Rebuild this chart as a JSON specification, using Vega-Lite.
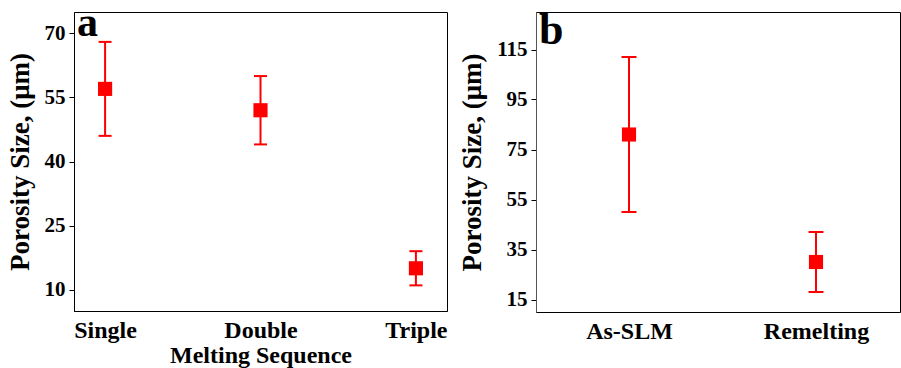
{
  "$schema": "https://vega.github.io/schema/vega-lite/v6.json",
  "padding": {"left": 5, "top": 1, "right": 0, "bottom": 0},
  "background": "white",
  "spacing": 10,
  "config": {
    "font": "Liberation Serif",
    "view": {"stroke": "black", "strokeWidth": 1},
    "axis": {
      "grid": false,
      "domainColor": "black",
      "domainWidth": 1,
      "tickColor": "black",
      "labelColor": "black",
      "titleColor": "black",
      "labelFont": "Liberation Serif",
      "titleFont": "Liberation Serif",
      "labelFontWeight": "bold",
      "titleFontWeight": "bold"
    },
    "title": {"font": "Liberation Serif", "fontWeight": "bold", "color": "black"}
  },
  "datasets": {
    "a": [
      {"seq": "Single", "mean": 57, "lo": 46, "hi": 68},
      {"seq": "Double", "mean": 52, "lo": 44, "hi": 60},
      {"seq": "Triple", "mean": 15, "lo": 11, "hi": 19}
    ],
    "b": [
      {"cond": "As-SLM", "mean": 81, "lo": 50, "hi": 112},
      {"cond": "Remelting", "mean": 30, "lo": 18, "hi": 42}
    ]
  },
  "hconcat": [
    {
      "width": 373,
      "height": 299,
      "data": {"name": "a"},
      "title": {"text": "a", "anchor": "start", "frame": "group", "orient": "top", "offset": -33, "fontSize": 42, "dx": 3},
      "encoding": {
        "x": {
          "field": "seq", "type": "nominal", "sort": null,
          "scale": {"type": "point", "padding": 0.2},
          "axis": {"title": "Melting Sequence", "labelAngle": 0, "ticks": false, "labelFontSize": 24, "titleFontSize": 24, "labelPadding": 7, "titlePadding": 1}
        }
      },
      "layer": [
        {
          "mark": {"type": "rule", "color": "#ff0000", "strokeWidth": 2},
          "encoding": {
            "y": {"field": "lo", "type": "quantitative", "scale": {"domain": [5, 75]},
              "axis": {"title": "Porosity Size, (μm)", "values": [10, 25, 40, 55, 70], "tickSize": 5, "labelFontSize": 21, "titleFontSize": 27, "labelPadding": 4, "titlePadding": 10}},
            "y2": {"field": "hi"}
          }
        },
        {
          "mark": {"type": "tick", "color": "#ff0000", "size": 13, "thickness": 2, "opacity": 1},
          "encoding": {"y": {"field": "hi", "type": "quantitative"}}
        },
        {
          "mark": {"type": "tick", "color": "#ff0000", "size": 13, "thickness": 2, "opacity": 1},
          "encoding": {"y": {"field": "lo", "type": "quantitative"}}
        },
        {
          "mark": {"type": "square", "color": "#ff0000", "size": 200, "opacity": 1, "filled": true},
          "encoding": {"y": {"field": "mean", "type": "quantitative"}}
        }
      ]
    },
    {
      "width": 364,
      "height": 300,
      "data": {"name": "b"},
      "title": {"text": "b", "anchor": "start", "frame": "group", "orient": "top", "offset": -41, "fontSize": 44, "dx": 3},
      "encoding": {
        "x": {
          "field": "cond", "type": "nominal", "sort": null,
          "scale": {"type": "point", "range": [93, 280], "padding": 0},
          "axis": {"title": null, "labelAngle": 0, "ticks": false, "labelFontSize": 24, "labelPadding": 7}
        }
      },
      "layer": [
        {
          "mark": {"type": "rule", "color": "#ff0000", "strokeWidth": 2},
          "encoding": {
            "y": {"field": "lo", "type": "quantitative", "scale": {"domain": [10, 130]},
              "axis": {"title": "Porosity Size, (μm)", "values": [15, 35, 55, 75, 95, 115], "tickSize": 5, "labelFontSize": 21, "titleFontSize": 27, "labelPadding": 4, "titlePadding": 10, "domainColor": "#555555"}},
            "y2": {"field": "hi"}
          }
        },
        {
          "mark": {"type": "tick", "color": "#ff0000", "size": 15, "thickness": 2, "opacity": 1},
          "encoding": {"y": {"field": "hi", "type": "quantitative"}}
        },
        {
          "mark": {"type": "tick", "color": "#ff0000", "size": 15, "thickness": 2, "opacity": 1},
          "encoding": {"y": {"field": "lo", "type": "quantitative"}}
        },
        {
          "mark": {"type": "square", "color": "#ff0000", "size": 200, "opacity": 1, "filled": true},
          "encoding": {"y": {"field": "mean", "type": "quantitative"}}
        }
      ]
    }
  ]
}
